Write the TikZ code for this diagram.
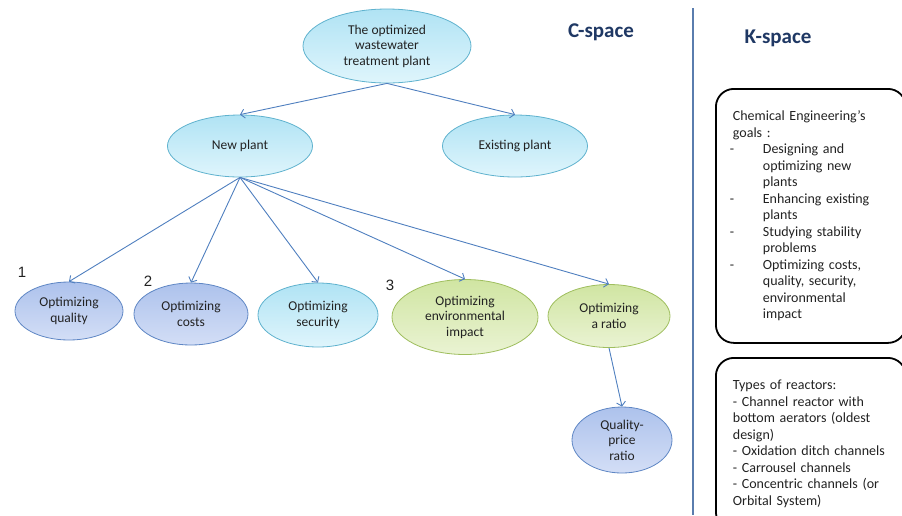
\documentclass[tikz,border=0pt]{standalone}
\usepackage{fontspec}
\setmainfont{Carlito}
\newfontfamily\numfont{Liberation Sans}
\definecolor{Cyantop}{HTML}{B0E3F4}
\definecolor{Cyanbot}{HTML}{DFF5FC}
\definecolor{Cyanline}{HTML}{5FB2CE}
\definecolor{Bluetop}{HTML}{ADC2EC}
\definecolor{Bluebot}{HTML}{D3DEF6}
\definecolor{Blueline}{HTML}{5E86C4}
\definecolor{Greentop}{HTML}{D0E5A2}
\definecolor{Greenbot}{HTML}{EAF3D3}
\definecolor{Greenline}{HTML}{9FBE5E}
\definecolor{Linkcol}{HTML}{4F7FBF}
\definecolor{Titlecol}{HTML}{1F3864}
\definecolor{Sepcol}{HTML}{5A7DAE}
\definecolor{Textcol}{HTML}{222222}
\usetikzlibrary{arrows.meta, shapes.geometric}
\tikzset{
    >={Straight Barb[length=4pt,width=9pt]},
    bubble/.style={ellipse, draw, line width=0.8pt, inner sep=0pt, align=center,
        text=Textcol, font=\fontsize{13.5}{15.5}\selectfont},
    cyanbubble/.style={bubble, draw=Cyanline, top color=Cyantop, bottom color=Cyanbot},
    bluebubble/.style={bubble, draw=Blueline, top color=Bluetop, bottom color=Bluebot},
    greenbubble/.style={bubble, draw=Greenline, top color=Greentop, bottom color=Greenbot},
    link/.style={->, Linkcol, line width=0.9pt},
    spacetitle/.style={text=Titlecol, font=\fontsize{21}{24}\selectfont\bfseries},
    rank/.style={text=Textcol, font=\numfont\fontsize{15}{18}\selectfont},
    kbox/.style={draw, line width=1.8pt, rounded corners=18pt, anchor=north west,
        align=left, text width=156pt, inner xsep=17pt, minimum width=190pt,
        text=Textcol, font=\fontsize{14}{16.5}\selectfont}
}
\newcommand{\gitem}[1]{\makebox[30pt][l]{\hspace*{-3pt}-}#1}
\newcommand{\gcont}[1]{\hspace*{30pt}#1}

\begin{document}
\begin{tikzpicture}[x=1pt, y=-1pt]
    \useasboundingbox (0,0) rectangle (902,515);

    % C-space tree
    \node[cyanbubble, minimum width=168pt, minimum height=74pt] (plant) at (387,46)
        {The optimized\\wastewater\\treatment plant};
    \node[cyanbubble, minimum width=145pt, minimum height=62pt] (newp) at (240,146) {New plant};
    \node[cyanbubble, minimum width=145pt, minimum height=62pt] (oldp) at (515,146) {Existing plant};

    \node[bluebubble, minimum width=108pt, minimum height=58pt] (quality) at (69,311) {Optimizing\\quality};
    \node[bluebubble, minimum width=114pt, minimum height=62pt] (costs) at (191,314) {Optimizing\\costs};
    \node[cyanbubble, minimum width=120pt, minimum height=64pt] (security) at (318,315) {Optimizing\\security};
    \node[greenbubble, minimum width=146pt, minimum height=75pt] (environ) at (465,317)
        {Optimizing\\environmental\\impact};
    \node[greenbubble, minimum width=122pt, minimum height=63pt] (ratio) at (609,316) {Optimizing\\a ratio};
    \node[bluebubble, minimum width=100pt, minimum height=66pt] (qpratio) at (622,440)
        {Quality-\\price\\ratio};

    % Priorities
    \node[rank] (r1) at (22,272) {1};
    \node[rank] (r2) at (148,281) {2};
    \node[rank] (r3) at (390,285) {3};

    % Links
    \draw[link] (plant.south) -- (newp.north);
    \draw[link] (plant.south) -- (oldp.north);
    \foreach \goal in {quality, costs, security, environ, ratio}
        \draw[link] (newp.south) -- (\goal.north);
    \draw[link] (ratio.south) -- (qpratio.north);

    % Titles
    \node[spacetitle] (cspace) at (601,32) {C-space};
    \node[spacetitle] (kspace) at (778,38) {K-space};

    % Separator
    \coordinate (septop) at (693,8);
    \coordinate (sepbot) at (693,515);
    \draw[Sepcol, line width=2.4pt] (septop) -- (sepbot);

    % K-space boxes
    \node[kbox, minimum height=254pt] (goals) at (715,88) {%
        Chemical Engineering's\\
        goals :\\
        \gitem{Designing and}\\
        \gcont{optimizing new}\\
        \gcont{plants}\\
        \gitem{Enhancing existing}\\
        \gcont{plants}\\
        \gitem{Studying stability}\\
        \gcont{problems}\\
        \gitem{Optimizing costs,}\\
        \gcont{quality, security,}\\
        \gcont{environmental}\\
        \gcont{impact}};
    \node[kbox, minimum height=172pt] (reactors) at (715,357) {%
        Types of reactors:\\
        - Channel reactor with\\
        bottom aerators (oldest\\
        design)\\
        - Oxidation ditch channels\\
        - Carrousel channels\\
        - Concentric channels (or\\
        Orbital System)};
\end{tikzpicture}
\end{document}
